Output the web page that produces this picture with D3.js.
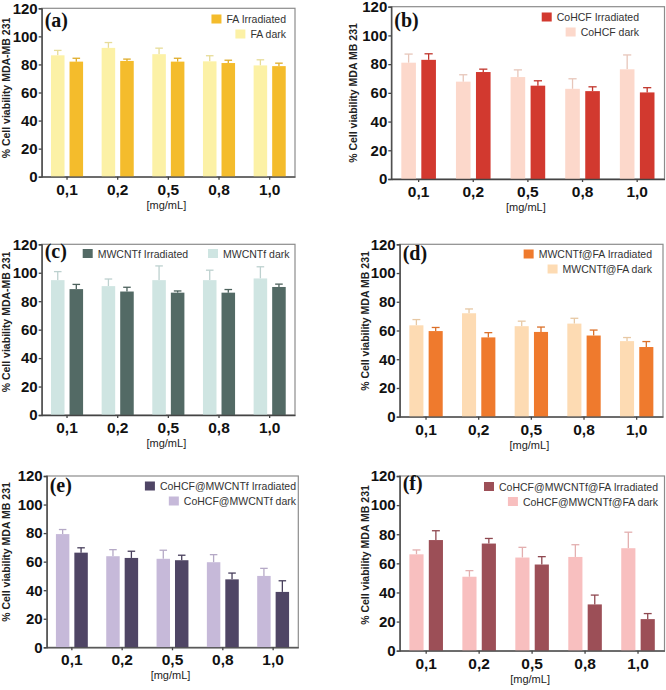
<!DOCTYPE html>
<html>
<head>
<meta charset="utf-8">
<script src="https://cdn.jsdelivr.net/npm/d3@7"></script>
<style>
body { margin:0; background:#fff; }
svg { display:block; font-family:"Liberation Sans", Arial, sans-serif; }
</style>
</head>
<body>
<div id="chart"></div>
<script>
// concentrations and y ticks shared by all six panels
const doses = ['0,1', '0,2', '0,5', '0,8', '1,0'];
const yTicks = [0, 20, 40, 60, 80, 100, 120];

// (a) FA
const aDark = [86.5, 91.8, 87.3, 82.2, 79.3];
const aDarkErr = [3.5, 3.8, 4.3, 4, 4];
const aIrr = [82, 82.5, 82, 81, 78.8];
const aIrrErr = [2.4, 1.3, 2.4, 2, 2.1];

// (b) CoHCF
const bDark = [81, 67.8, 71, 62.8, 76.4];
const bDarkErr = [6, 4.8, 5, 7, 10];
const bIrr = [83, 74.5, 65, 61.2, 60.3];
const bIrrErr = [4.2, 2, 3.4, 3, 3.3];

// (c) MWCNTf
const cDark = [94.8, 90.6, 94.8, 94.8, 96];
const cDarkErr = [6, 5, 10, 7, 8.2];
const cIrr = [88.5, 86.8, 86, 86, 90];
const cIrrErr = [3.3, 3, 1.2, 2.2, 2];

// (d) MWCNTf@FA
const dDark = [63.6, 72, 63, 64.8, 52.6];
const dDarkErr = [4, 3, 3.5, 3.7, 2.5];
const dIrr = [59.6, 55.2, 59, 56.5, 48.5];
const dIrrErr = [2.5, 3.3, 3.4, 3.8, 3.8];

// (e) CoHCF@MWCNTf
const eDark = [79.3, 63.8, 62, 59.6, 50];
const eDarkErr = [3.2, 4.6, 6, 5.3, 5.3];
const eIrr = [66.3, 62.6, 61, 47.6, 38.8];
const eIrrErr = [3.4, 4.7, 3.5, 4.4, 7.8];

// (f) CoHCF@MWCNTf@FA
const fDark = [66.2, 50.8, 64, 64.4, 70.4];
const fDarkErr = [3, 4.2, 7, 8.4, 11];
const fIrr = [76, 73.6, 59.2, 31.8, 21.7];
const fIrrErr = [6.4, 3.5, 5.4, 6.4, 3.8];

const panels = [
  {tag:'(a)', name:'FA', ylab:'% Cell viability MDA-MB 231',
   dark:aDark, darkErr:aDarkErr, irr:aIrr, irrErr:aIrrErr,
   cDark:'#fcf1a6', cIrr:'#f4bc2c',
   box:[41.7, 295, 8.3, 176.7], tagY:27, ylabPos:[9.5, 88],
   legend:{type:'stack', x:286, y:19}},
  {tag:'(b)', name:'CoHCF', ylab:'% Cell viability  MDA MB 231',
   dark:bDark, darkErr:bDarkErr, irr:bIrr, irrErr:bIrrErr,
   cDark:'#fcd8cb', cIrr:'#d2392f',
   box:[391.3, 664.5, 6.7, 179], tagY:27, ylabPos:[356.5, 93],
   legend:{type:'stack', x:639, y:17}},
  {tag:'(c)', name:'MWCNTf', ylab:'% Cell viability MDA-MB 231',
   dark:cDark, darkErr:cDarkErr, irr:cIrr, irrErr:cIrrErr,
   cDark:'#cfe5e2', cIrr:'#536a65',
   box:[41.7, 295, 244.3, 415], tagY:258, ylabPos:[9.5, 322],
   legend:{type:'row', x:82.7, x2:208, y:253.5}},
  {tag:'(d)', name:'MWCNTf@FA', ylab:'% Cell viability MDA MB 231',
   dark:dDark, darkErr:dDarkErr, irr:dIrr, irrErr:dIrrErr,
   cDark:'#fddbb3', cIrr:'#ef7a2d',
   box:[399.7, 663, 244.3, 416.7], tagY:260, ylabPos:[368.7, 321],
   legend:{type:'stack', x:652, y:254}},
  {tag:'(e)', name:'CoHCF@MWCNTf', ylab:'% Cell viability MDA MB 231',
   dark:eDark, darkErr:eDarkErr, irr:eIrr, irrErr:eIrrErr,
   cDark:'#c6b9d9', cIrr:'#4f4565',
   box:[46.7, 298.3, 476, 647.3], tagY:492, ylabPos:[9.5, 552],
   legend:{type:'stack', x:296, y:486}},
  {tag:'(f)', name:'CoHCF@MWCNTf@FA', ylab:'% Cell viability MDA MB 231',
   dark:fDark, darkErr:fDarkErr, irr:fIrr, irrErr:fIrrErr,
   cDark:'#f8bfbf', cIrr:'#9c4f57',
   box:[399.7, 664.5, 476, 650.7], tagY:490, ylabPos:[368.7, 555],
   legend:{type:'stack', x:658, y:486.5}}
];

const width = 666, height = 690;
const sans = '"Liberation Sans", Arial, sans-serif';
const svg = d3.select('#chart').append('svg')
  .attr('width', width).attr('height', height);

panels.forEach(p => {
  const [left, right, top, bottom] = p.box;
  const g = svg.append('g');

  let x = d3.scaleBand().domain(doses).range([left, right]).paddingInner(0).paddingOuter(0);
  let x1 = d3.scaleBand().domain(['dark', 'irr']).range([0, x.bandwidth()]).paddingInner(0.27).paddingOuter(0.5);
  let y = d3.scaleLinear().domain([0, 120]).range([bottom, top]);

  // plot frame
  g.append('rect')
    .attr('x', left).attr('y', top)
    .attr('width', right - left).attr('height', bottom - top)
    .style('fill', 'none').style('stroke', '#8c8c8c').style('stroke-width', 1.2);

  const rows = [];
  doses.forEach((d, i) => {
    rows.push({dose:d, key:'dark', v:p.dark[i], e:p.darkErr[i], c:p.cDark});
    rows.push({dose:d, key:'irr', v:p.irr[i], e:p.irrErr[i], c:p.cIrr});
  });

  // error bars (upper only)
  const eb = g.selectAll('.eb').data(rows).enter().append('g');
  eb.append('line')
    .attr('x1', d => x(d.dose) + x1(d.key) + x1.bandwidth()/2)
    .attr('x2', d => x(d.dose) + x1(d.key) + x1.bandwidth()/2)
    .attr('y1', d => y(d.v)).attr('y2', d => y(d.v + d.e))
    .style('stroke', d => d3.color(d.c).darker(0.25)).style('stroke-width', 1.3);
  eb.append('line')
    .attr('x1', d => x(d.dose) + x1(d.key) + x1.bandwidth()*0.22)
    .attr('x2', d => x(d.dose) + x1(d.key) + x1.bandwidth()*0.78)
    .attr('y1', d => y(d.v + d.e)).attr('y2', d => y(d.v + d.e))
    .style('stroke', d => d3.color(d.c).darker(0.25)).style('stroke-width', 1.3);

  g.selectAll('.bar').data(rows).enter().append('rect')
    .attr('x', d => x(d.dose) + x1(d.key))
    .attr('y', d => y(d.v))
    .attr('width', x1.bandwidth())
    .attr('height', d => y(0) - y(d.v))
    .style('fill', d => d.c);

  // axes
  const yAxis = d3.axisLeft(y).tickValues(yTicks).tickSize(3).tickPadding(1);
  const yg = g.append('g').attr('transform', 'translate(' + left + ',0)').call(yAxis);
  yg.attr('font-family', null).attr('font-size', null);
  yg.selectAll('text').style('font-family', sans).style('font-size', '15px').style('font-weight', 'bold').style('fill', '#111');
  yg.selectAll('line, path').style('stroke', '#444').style('stroke-width', 1.3);

  const xAxis = d3.axisBottom(x).tickSize(3).tickPadding(4).tickSizeOuter(0);
  const xg = g.append('g').attr('transform', 'translate(0,' + bottom + ')').call(xAxis);
  xg.attr('font-family', null).attr('font-size', null);
  xg.selectAll('text').style('font-family', sans).style('font-size', '15.5px').style('font-weight', 'bold').style('fill', '#111');
  xg.selectAll('line, path').style('stroke', '#444').style('stroke-width', 1.3);

  g.append('text')
    .attr('x', (left + right)/2 - 2).attr('y', bottom + 32)
    .style('font-family', sans)
    .style('text-anchor', 'middle').style('font-size', '11px').style('fill', '#222')
    .text('[mg/mL]');

  g.append('text')
    .attr('transform', 'translate(' + p.ylabPos[0] + ',' + p.ylabPos[1] + ') rotate(-90)')
    .style('font-family', sans)
    .style('text-anchor', 'middle').style('font-size', '10.5px').style('font-weight', 'bold')
    .style('fill', '#222')
    .text(p.ylab);

  g.append('text')
    .attr('x', left + 3).attr('y', p.tagY)
    .style('font-family', '"Liberation Serif", "Times New Roman", serif')
    .style('font-size', '20px').style('font-weight', 'bold').style('fill', '#111')
    .text(p.tag);

  // legend
  const L = p.legend;
  const items = [{label:p.name + ' Irradiated', c:p.cIrr}, {label:p.name + ' dark', c:p.cDark}];
  if (L.type === 'stack') {
    items.forEach((it, i) => {
      const cy = L.y + i*15;
      const t = g.append('text')
        .attr('x', L.x).attr('y', cy + 4)
        .style('font-family', sans)
        .style('text-anchor', 'end').style('font-size', '10.5px').style('fill', '#333')
        .text(it.label);
      const w = t.node().getComputedTextLength();
      g.append('rect')
        .attr('x', L.x - w - 15).attr('y', cy - 4.5)
        .attr('width', 10).attr('height', 9)
        .style('fill', it.c);
    });
  } else {
    [L.x, L.x2].forEach((sx, i) => {
      g.append('rect')
        .attr('x', sx).attr('y', L.y - 4.5)
        .attr('width', 10).attr('height', 9)
        .style('fill', items[i].c);
      g.append('text')
        .attr('x', sx + 15).attr('y', L.y + 4)
        .style('font-family', sans)
        .style('font-size', '10.5px').style('fill', '#333')
        .text(items[i].label);
    });
  }
});
</script>
</body>
</html>
